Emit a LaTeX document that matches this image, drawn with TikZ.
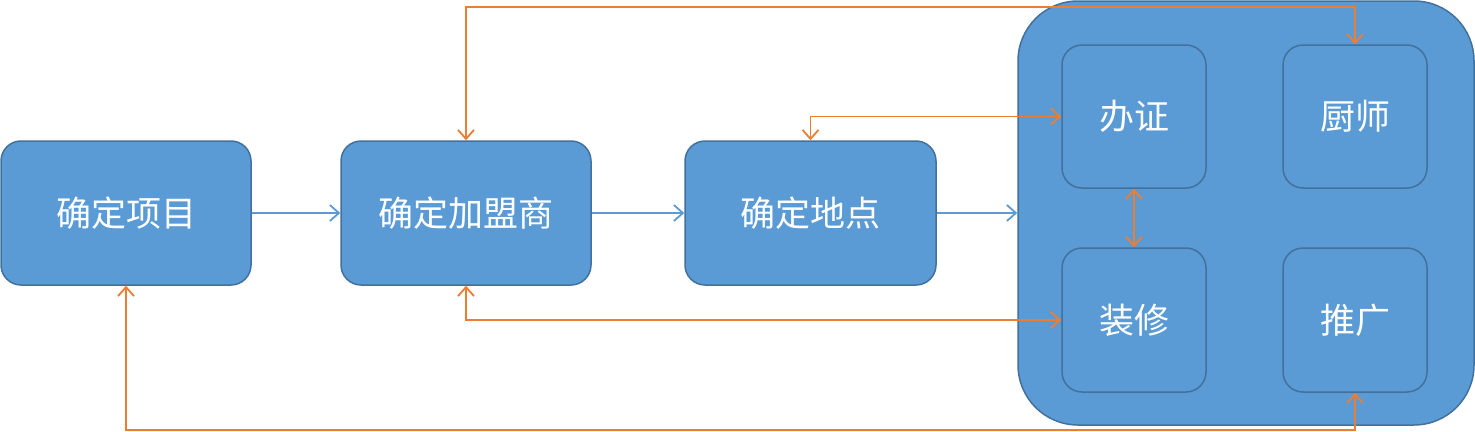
\documentclass[tikz,border=0pt]{standalone}
\usepackage{fontspec}
\setmainfont{Noto Sans CJK SC}
\usetikzlibrary{arrows.meta}
\definecolor{boxfill}{HTML}{5B9BD5}
\definecolor{boxline}{HTML}{41719C}
\definecolor{orangeline}{HTML}{ED7D31}
\tikzset{
  box/.style={draw=boxline, line width=1.5pt, fill=boxfill, rounded corners=20pt,
    text=white, inner sep=0pt, font=\fontsize{35}{40}\selectfont},
  bluearrow/.style={draw=boxfill, line width=1.8pt, -{Straight Barb[length=9pt,width=16pt,line width=1.8pt]}},
  orangearrow/.style={draw=orangeline, line width=1.8pt, {Straight Barb[length=9pt,width=16pt,line width=1.8pt]}-{Straight Barb[length=9pt,width=16pt,line width=1.8pt]}},
}
\begin{document}
\begin{tikzpicture}[x=1pt,y=-1pt]
\useasboundingbox[fill=white] (0,0) rectangle (1475,431);
\node[box, minimum width=250pt, minimum height=144pt] (b1) at (126,213) {确定项目};
\node[box, minimum width=250pt, minimum height=144pt] (b2) at (466,213) {确定加盟商};
\node[box, minimum width=251pt, minimum height=144pt] (b3) at (810.5,213) {确定地点};
\node[box, rounded corners=60pt, minimum width=456pt, minimum height=424pt] (cont) at (1246,213) {};
\node[box, minimum width=144pt, minimum height=143pt] (bz) at (1134,116.5) {办证};
\node[box, minimum width=144pt, minimum height=143pt] (cs) at (1355,116.5) {厨师};
\node[box, minimum width=144pt, minimum height=144pt] (zx) at (1134,320) {装修};
\node[box, minimum width=144pt, minimum height=144pt] (tg) at (1355,320) {推广};
\coordinate (top) at (0,7);
\coordinate (bot) at (0,430);
\draw[bluearrow] (b1.east) -- (b2.west);
\draw[bluearrow] (b2.east) -- (b3.west);
\draw[bluearrow] (b3.east) -- (cont.west);
\draw[orangearrow] (b2.north) -- (b2.north |- top) -| (cs.north);
\draw[orangearrow] (b3.north) |- (bz.west);
\draw[orangearrow] (bz.south) -- (zx.north);
\draw[orangearrow] (b2.south) |- (zx.west);
\draw[orangearrow] (b1.south) -- (b1.south |- bot) -| (tg.south);
\end{tikzpicture}
\end{document}
